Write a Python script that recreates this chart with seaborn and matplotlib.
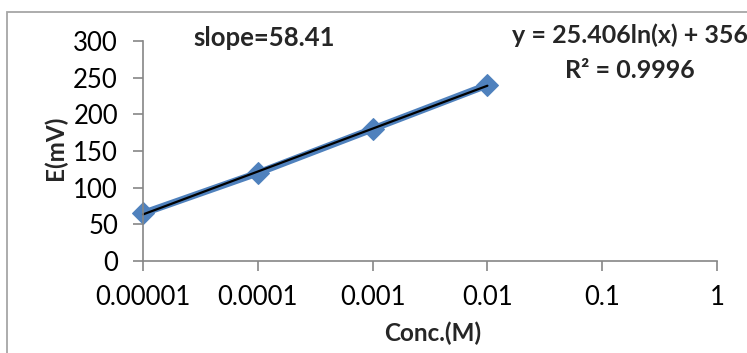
import matplotlib
matplotlib.use("Agg")
import matplotlib.pyplot as plt
import matplotlib.patches as mpatches
import numpy as np
import pandas as pd
import seaborn as sns

# Data
conc = [0.00001, 0.0001, 0.001, 0.01]
emv = [65, 120, 180, 240]
fit_coef = [25.406, 356]  # y = a*ln(x) + b
xtick_vals = [0.00001, 0.0001, 0.001, 0.01, 0.1, 1]
xtick_labels = ["0.00001", "0.0001", "0.001", "0.01", "0.1", "1"]
ytick_vals = [0, 50, 100, 150, 200, 250, 300]

sns.set_style("white")
plt.rcParams["font.family"] = ["Lato", "DejaVu Sans"]

W, H = 747, 353
fig = plt.figure(figsize=(W / 100, H / 100), dpi=100)
ax = fig.add_axes([143 / W, 1 - 261 / H, (717 - 143) / W, (261 - 41) / H])

df = pd.DataFrame({"Conc.(M)": conc, "E(mV)": emv})
blue = "#4F81BD"
sns.lineplot(data=df, x="Conc.(M)", y="E(mV)", ax=ax, color=blue, linewidth=5,
             marker="D", markersize=11, markeredgecolor=blue, markerfacecolor=blue,
             clip_on=False)

xf = np.array([conc[0], conc[-1]])
yf = fit_coef[0] * np.log(xf) + fit_coef[1]
ax.plot(xf, yf, color="black", linewidth=1.6, clip_on=False)

ax.set_xscale("log")
ax.set_xlim(1e-5, 1)
ax.set_ylim(0, 300)
ax.set_xticks(xtick_vals)
ax.set_xticklabels(xtick_labels)
ax.minorticks_off()
ax.set_yticks(ytick_vals)

gray = "#868686"
for s in ["top", "right"]:
    ax.spines[s].set_visible(False)
for s in ["left", "bottom"]:
    ax.spines[s].set_color(gray)
    ax.spines[s].set_linewidth(1.2)
ax.tick_params(axis="both", direction="out", length=7, width=1.2, color=gray,
               labelsize=18.5, labelcolor="black", left=True, bottom=True)
ax.tick_params(axis="x", pad=10)
ax.tick_params(axis="y", pad=11)

ax.set_xlabel("Conc.(M)", fontsize=17.5, fontweight="bold", va="center")
ax.set_ylabel("E(mV)", fontsize=17.5, fontweight="bold", va="center")
ax.xaxis.set_label_coords((433 - 143) / 574, (261 - 333) / 220)
ax.yaxis.set_label_coords((55 - 143) / 574, (261 - 148) / 220)

fig.text(264 / W, 1 - 38 / H, "slope=58.41", fontsize=18.5, fontweight="bold",
         ha="center", va="center")
fig.text(630 / W, 1 - 35 / H, "y = 25.406ln(x) + 356", fontsize=18, fontweight="bold",
         ha="center", va="center")
fig.text(630 / W, 1 - 70 / H, "R² = 0.9996", fontsize=18, fontweight="bold",
         ha="center", va="center")

# chart-area border (cropped at right/bottom)
fig.add_artist(mpatches.Rectangle((7 / W, -0.1), 1.2, 1 - 12 / H + 0.1,
                                  transform=fig.transFigure, fill=False,
                                  edgecolor="#A6A6A6", linewidth=1.3))

fig.savefig("out.png", dpi=100, facecolor="white")
